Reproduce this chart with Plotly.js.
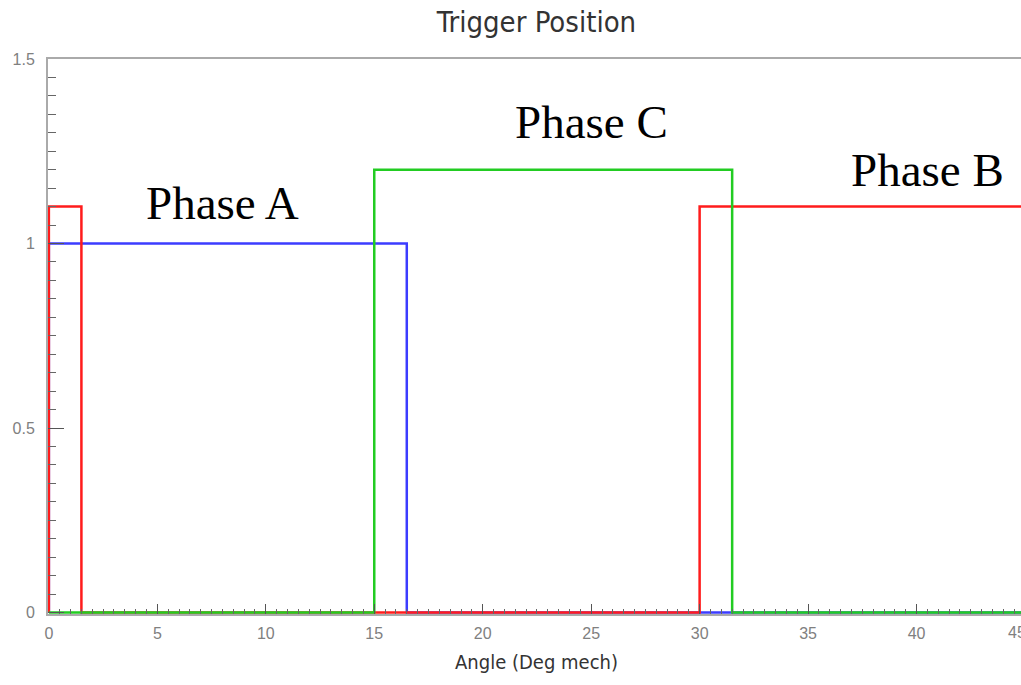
<!DOCTYPE html>
<html>
<head>
<meta charset="utf-8">
<script src="https://cdn.plot.ly/plotly-3.0.1.min.js"></script>
<style>
html,body{margin:0;padding:0;overflow:hidden;background:#fff;}
#chart{width:1045px;height:685px;}
</style>
</head>
<body>
<div id="chart"></div>
<script>
// Angle (deg mech) and trigger level for each phase (step signals)
const angleA = [0, 0, 1.5, 30, 45];
const levelA = [0, 1.1, 0, 1.1, 1.1];     // red
const angleB = [0, 0, 16.5, 45];
const levelB = [0, 1.0, 0, 0];            // blue
const angleC = [0, 15, 31.5, 45];
const levelC = [0, 1.2, 0, 0];            // green

const labels = ["Phase A", "Phase C", "Phase B"];
const labelX = [8.0, 25.0, 40.5];
const labelY = [1.11, 1.33, 1.20];

const xTickVals = [0, 5, 10, 15, 20, 25, 30, 35, 40, 45];
const xTickText = ['0', '5', '10', '15', '20', '25', '30', '35', '40', ''];
const yTickVals = [0, 0.5, 1, 1.5];
const yTickText = ['0', '0.5', '1', '1.5'];

const tickFont = {family: 'Liberation Sans, Arial, sans-serif', size: 16, color: '#808080'};

const traces = [
  {x: angleB, y: levelB, mode: 'lines', line: {shape: 'hv', color: '#3c3cff', width: 2.5}, hoverinfo: 'skip'},
  {x: angleA, y: levelA, mode: 'lines', line: {shape: 'hv', color: '#ff1c1c', width: 2.5}, hoverinfo: 'skip'},
  {x: angleC, y: levelC, mode: 'lines', line: {shape: 'hv', color: '#22cc22', width: 2.5}, hoverinfo: 'skip'}
];

const annotations = labels.map((t, i) => ({
  x: labelX[i], y: labelY[i], xref: 'x', yref: 'y', text: t, showarrow: false,
  font: {family: 'Liberation Serif, Times New Roman, serif', size: 47, color: '#000'}
}));
// last x tick label, drawn shifted inward as in the original (partly cut at the edge)
annotations.push({
  x: 0.9806, y: -0.033, xref: 'paper', yref: 'paper', xanchor: 'left', yanchor: 'middle',
  text: '45', showarrow: false, font: tickFont
});

const layout = {
  width: 1045, height: 685,
  margin: {l: 48, r: 20, t: 59, b: 71},
  paper_bgcolor: '#fff', plot_bgcolor: '#fff',
  showlegend: false,
  title: {text: 'Trigger Position', x: 0.5, xref: 'paper', y: 0.968, yref: 'container', yanchor: 'middle',
          font: {family: 'DejaVu Sans Condensed, Liberation Sans, sans-serif', size: 29, color: '#333'}},
  xaxis: {
    range: [-0.04, 45], tickmode: 'array', tickvals: xTickVals, ticktext: xTickText,
    ticks: 'inside', ticklen: 10, tickwidth: 1, tickcolor: '#555',
    minor: {ticks: 'inside', dtick: 0.5, tick0: 0, ticklen: 5, tickwidth: 1, tickcolor: '#666', showgrid: false},
    showgrid: false, zeroline: false, showline: true, linecolor: '#aaa', linewidth: 2, mirror: true,
    ticklabelstandoff: 4,
    tickfont: tickFont,
    title: {text: 'Angle (Deg mech)', standoff: 14,
            font: {family: 'DejaVu Sans Condensed, Liberation Sans, sans-serif', size: 20, color: '#333'}}
  },
  yaxis: {
    range: [-0.004, 1.5], tickmode: 'array', tickvals: yTickVals, ticktext: yTickText,
    ticks: 'inside', ticklen: 16, tickwidth: 1, tickcolor: '#555',
    minor: {ticks: 'inside', dtick: 0.05, tick0: 0, ticklen: 8, tickwidth: 1, tickcolor: '#666', showgrid: false},
    showgrid: false, zeroline: false, showline: true, linecolor: '#aaa', linewidth: 2, mirror: true,
    ticklabelstandoff: 8,
    tickfont: tickFont
  },
  annotations: annotations
};

Plotly.newPlot('chart', traces, layout, {displayModeBar: false, staticPlot: true});
</script>
</body>
</html>
